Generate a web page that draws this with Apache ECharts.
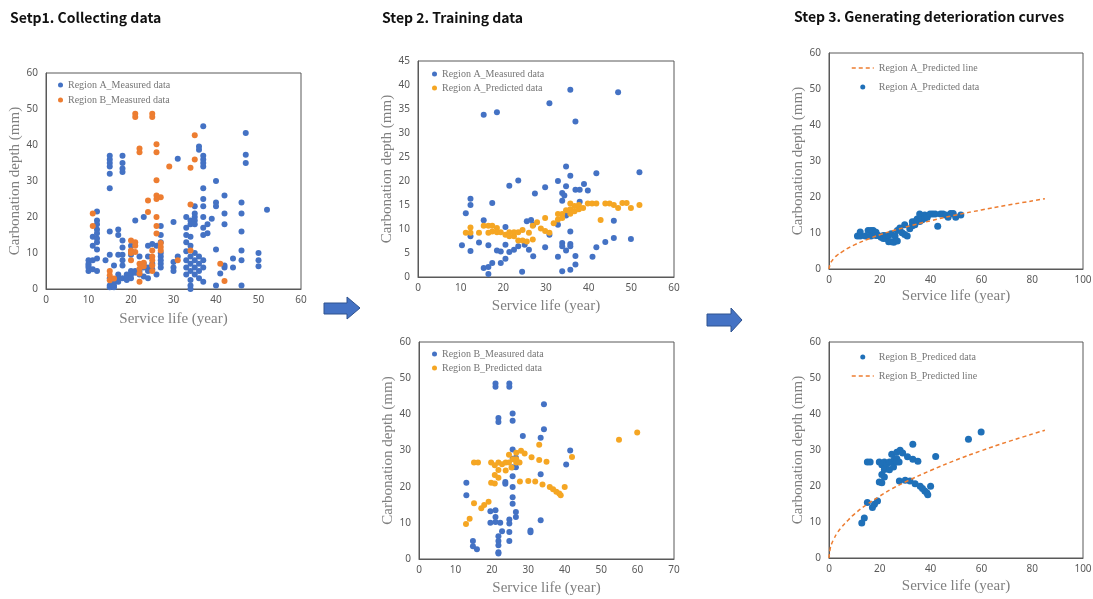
<!DOCTYPE html>
<html><head><meta charset="utf-8">
<script src="https://cdn.jsdelivr.net/npm/echarts@6/dist/echarts.min.js"></script>
<style>html,body{margin:0;padding:0;background:#fff;}#c{width:1093px;height:599px;}</style>
</head><body><div id="c"></div>
<script>
// ---------- DATA ----------
const panelTitles = ['Setp1. Collecting data', 'Step 2. Training data', 'Step 3. Generating deterioration curves'];
const xTitle = 'Service life (year)';
const yTitle = 'Carbonation depth (mm)';

// Step 1: Region A measured
const s1RegionA = [
 [10,8],[10,7],[10,6.5],[10,6],[10,5],
 [11,14.5],[11,12],[11,8],[11,5.5],
 [12,21.5],[12,19],[12,18],[12,16.5],[12,15.5],[12,14],[12,13],[12,11],[12,8.5],[12,5],
 [14,8],
 [15,37],[15,36],[15,35],[15,34],[15,32],[15,28],[15,16],[15,9.5],[15,3],[15,1],[15,0.5],
 [16,6.5],[16,2],[16,1],[16,0.5],
 [17,16.5],[17,15],[17,9.5],[17,4],[17,3],[17,2],
 [18,37],[18,35],[18,33.5],[18,32.5],[18,13.5],[18,11.5],[18,9.5],[18,8],[18,6.5],[18,3],
 [19,4],[19,3],[19,2.5],
 [20,12],[20,10.5],[20,9.5],[20,5],[20,4],[20,3],
 [21,19],[21,5],[21,4.5],
 [22,9],[22,5],[22,4],
 [23,20],[23,7],[23,6],[23,3.5],
 [24,12],[24,9],[24,6],[24,5],[24,3],
 [25,12.5],[25,7],[25,5.5],
 [26,12],[26,4],
 [27,17.5],[27,15],[27,13],[27,10],[27,9],[27,8],[27,7],[27,6],
 [30,18.6],[30,7.5],[30,6],[30,5],
 [31,36.2],[31,9],
 [33,20],[33,17],[33,15],[33,13],[33,10.5],[33,8],[33,6],[33,4],
 [34,19],[34,18],[34,14.5],[34,12],[34,9],[34,7],[34,5],[34,2.5],[34,1],[34,0],
 [35,23],[35,21],[35,20],[35,19],[35,18],[35,10],[35,8],[35,6],[35,4],
 [36,39.6],[36,38.7],[36,9],[36,7],[36,5],[36,3],
 [37,45.2],[37,37],[37,36],[37,35],[37,34],[37,28],[37,25],[37,23],[37,20],[37,17],[37,15],[37,8],[37,6],[37,2],
 [38,18],[38,15.5],[39,19.5],
 [40,30],[40,24],[40,23],[40,11],[40,1],
 [41,4.3],
 [42,26],[42,21],[42,18],[42,6.5],[42,6],
 [44,8.5],[44,6],
 [46,24],[46,21],[46,16],[46,10.7],[46,8],[46,1],
 [47,43.3],[47,37.3],[47,35],
 [50,10],[50,8],[50,6.3],
 [52,22]
];
// Step 1: Region B measured
const s1RegionB = [
 [11,21],[11,17.5],[15,5],[15,3.8],[15,2.4],[16,2.9],
 [20,13.5],[20,10.7],[20,10],[20,8],[21,13],[21,12],[21,10.3],[21,48.7],[21,47.8],
 [22,39],[22,38],[22,7],[22,5.6],[22,4.3],[22,2],[23,7.3],[23,6.3],[24,24.6],[24,21.4],
 [25,48.7],[25,47.8],[25,10.7],[25,9],[25,8],[25,6.5],[25,5],
 [26,40.2],[26,38],[26,30.2],[26,26],[26,25],[26,20],[26,17.5],[26,15.4],
 [27,25.5],[27,12.8],[27,11.7],[27,10.7],[29,34],[31,8],
 [34,33.7],[34,23.5],[34,10.7],[35,42.7],[35,36],[41,7],[42,2.2]
];
// Step 2 (top): Region A measured
const s2RegionAMeasured = [
 [10.3,6.6],[11.2,13.3],[12.3,16.3],[12.3,15],[12.3,8.5],[12.3,5.4],[14.3,7.2],[15.4,33.8],[15.4,11.8],[15.4,1.9],
 [16.5,2.1],[16.5,0.6],[16.5,6.6],[17.4,15.4],[17.4,2.9],[18.5,34.3],[18.5,5.5],[19.4,5.3],[19.4,2.9],
 [20.5,10.4],[20.5,6.7],[20.5,3.8],[21.4,19],[21.4,5.2],[22.5,5.7],[23.5,20.1],[23.5,6.4],[24.4,1.1],
 [25.5,11.6],[25,6.7],[26,5.7],[26.5,11.9],[27,10.9],[27,4.3],[27.4,17.4],[29.8,18.7],[29.8,6.2],
 [30.8,36.2],[30.8,8.8],[32.8,20],[32.8,10.9],[32.8,4.2],[33.8,17.5],[34.3,17],[33.8,15.9],[33.8,7.1],
 [33.8,6.4],[33.8,1.2],[34.7,23],[34.7,18.9],[34.7,12.8],[34.7,5.5],[35.7,39],[35.7,21.1],[35.7,9.5],
 [35.7,6.9],[35.7,6.4],[35.7,1.5],[36.9,32.4],[36.9,18.2],[36.9,4.4],[36.9,2.6],[37.9,18.2],[37.9,15.7],
 [38.9,19.4],[39.8,18],[40.9,4.2],[41.8,6.2],[41.8,21.6],[43.9,7.3],[45.9,8.1],[45.9,11.7],[46.9,38.5],
 [49.9,7.9],[51.9,21.8]
];
// Region A predicted data (Step 2 top and Step 3 top)
const regionAPredicted = [
 [11.2,9.2],[12.3,9.2],[12.3,10.3],[14.3,9.2],[15.4,10.7],[16.5,10.7],[16.5,9.2],[17.4,9.5],[17.4,10.7],
 [18.5,10.2],[18.5,9.3],[19.4,9.3],[20.5,8.8],[21.4,9.3],[21.4,8.5],[22.5,8.5],[22.5,9.3],[23.5,9.3],
 [23.5,7.6],[24.5,9.8],[24.5,7.6],[25.5,7.4],[26,9.2],[26.9,7.8],[26.9,10.7],[27.9,11.4],[28.8,10.1],
 [29.8,12.3],[29.8,9.6],[30.8,9.2],[31.8,11.2],[32.8,13.1],[33.8,13.1],[32.8,12],[33.8,12.3],[34.7,13.9],
 [35.7,14.1],[35.7,15.3],[36.7,14.8],[37.7,15],[35.7,13.2],[36.7,13.7],[37.7,14.1],[38.7,14.4],[39.8,15.3],
 [40.8,15.3],[41.8,15.3],[42.8,11.9],[43.9,15.3],[44.9,15.3],[45.9,15],[46.9,14.4],[47.9,15.4],[48.9,15.4],
 [49.9,14.4],[51.9,15]
];
// Step 2 (bottom): Region B measured
const s2RegionBMeasured = [
 [13,21.1],[13,17.6],[14.8,5],[14.8,3.5],[15.9,2.7],[19.6,13.2],[21,13.5],[21,11.6],[19.6,10],[21,10.2],
 [22.3,10],[21,48.5],[21,47.6],[21.8,39],[21.8,37.9],[21.8,6.3],[21.8,5],[21.8,3.8],[21.8,1.9],[21.8,1.5],
 [22.8,7.7],[23.7,21.3],[23.7,20.8],[24.8,48.5],[24.8,47.6],[24.8,10.9],[24.8,9.8],[24.8,7.5],[24.8,5],
 [25.7,40.2],[25.7,38.2],[25.7,30.3],[25.7,27.7],[26.6,28],[25.7,25.4],[26.6,25.4],[25.7,22.9],[25.7,19.9],
 [25.7,17.1],[25.7,15.3],[26.6,13],[26.6,11.6],[28.5,34],[30.6,7.9],[30.6,7.4],[34.3,42.8],[34.3,35.9],
 [33.4,33.5],[33.4,23.4],[33.4,10.7],[41.5,30],[40.4,26.1]
];
// Region B predicted data (Step 2 bottom and Step 3 bottom)
const regionBPredicted = [
 [12.9,9.7],[13.9,11.1],[15.1,15.4],[15.1,26.7],[16.2,26.7],[17.1,14],[17.9,14.9],[19.1,15.8],[19.8,21.1],
 [20.8,20.9],[19.8,26.7],[20.8,25.9],[20.8,23.2],[21.8,22.5],[21.8,26.7],[22.8,26.2],[21.8,24.6],[23.8,26.7],
 [24.7,26.7],[23.8,24.5],[24.7,28.8],[25.4,25.3],[25.8,27.6],[26.7,27.6],[26.7,26.7],[26.7,29.4],[27.6,26.7],
 [28,29.9],[27.7,21.4],[29,29.2],[30,21.6],[30.9,28.1],[31.9,21.4],[33,31.6],[33,27.4],[33.9,20.6],[35,26.9],
 [35.9,19.9],[36.8,19.3],[37.7,18.6],[38.5,18.1],[38.9,17.6],[40,19.9],[42,28.2],[54.9,33],[59.9,35]
];
// Predicted lines
const lineX = [0,0.5,1,2,3,5,7.5,10,15,20,25,30,40,50,60,70,85];
const lineA = [0,1.5,2.1,3,3.7,4.7,5.8,6.7,8.2,9.5,10.6,11.6,13.4,15,16.4,17.7,19.5];
const lineB = [0,2.7,3.9,5.4,6.7,8.6,10.5,12.2,14.9,17.2,19.3,21.1,24.3,27.2,29.8,32.2,35.5];

// ---------- STYLE / LAYOUT ----------
const BLUE = '#4472C4', ORANGE = '#ED7D31', GOLD = '#F5A623', BLUE3 = '#1F70B8';
const grids = [
 {left:46, top:73, width:255, height:216},
 {left:418, top:61, width:256, height:216},
 {left:419, top:342, width:255, height:217},
 {left:829, top:53, width:254, height:216},
 {left:829, top:342, width:254, height:216}
];
const xRanges = [[60,10],[60,10],[70,10],[100,20],[100,20]];
const yRanges = [[60,10],[45,5],[60,10],[60,10],[60,10]];
const xGaps = [23,22,22,20,21];
const yGaps = [21,21,21,21,21];

const axisTitleStyle = {fontFamily:'Liberation Serif', fontSize:15, color:'#7F7F7F'};
const tickStyle = {color:'#595959', fontSize:10, fontFamily:'Noto Sans'};

const xAxis = grids.map((g,i)=>({
  type:'value', gridIndex:i, min:0, max:xRanges[i][0], interval:xRanges[i][1],
  name:xTitle, nameLocation:'middle', nameGap:xGaps[i], nameTextStyle:axisTitleStyle,
  axisLine:{show:true, onZero:false, lineStyle:{color:'#595959', width:1}},
  axisTick:{show:false}, splitLine:{show:false},
  axisLabel:Object.assign({margin:6}, tickStyle)
}));
const yAxis = grids.map((g,i)=>({
  type:'value', gridIndex:i, min:0, max:yRanges[i][0], interval:yRanges[i][1],
  name:yTitle, nameLocation:'middle', nameGap:yGaps[i], nameTextStyle:axisTitleStyle,
  axisLine:{show:true, onZero:false, lineStyle:{color:'#595959', width:1}},
  axisTick:{show:false}, splitLine:{show:false},
  axisLabel:Object.assign({margin:8}, tickStyle)
}));

function sc(name, data, idx, color, size){
  return {type:'scatter', name:name, data:data, xAxisIndex:idx, yAxisIndex:idx,
    symbol:'circle', symbolSize:size, itemStyle:{color:color, opacity:1}, silent:true};
}
function ln(name, xs, ys, idx){
  return {type:'line', name:name, data:xs.map((x,k)=>[x,ys[k]]), xAxisIndex:idx, yAxisIndex:idx,
    symbol:'none', smooth:true, silent:true,
    lineStyle:{color:ORANGE, width:1.5, type:[4,3]}, itemStyle:{color:ORANGE}};
}
const series = [
  sc('Region A_Measured data', s1RegionA, 0, BLUE, 6),
  sc('Region B_Measured data', s1RegionB, 0, ORANGE, 6),
  sc('Region A_Measured data', s2RegionAMeasured, 1, BLUE, 6),
  sc('Region A_Predicted data', regionAPredicted, 1, GOLD, 6),
  sc('Region B_Measured data', s2RegionBMeasured, 2, BLUE, 6),
  sc('Region B_Predicted data', regionBPredicted, 2, GOLD, 6),
  sc('Region A_Predicted data', regionAPredicted, 3, BLUE3, 7),
  ln('Region A_Predicted line', lineX, lineA, 3),
  sc('Region B_Prediced data', regionBPredicted, 4, BLUE3, 7),
  ln('Region B_Predicted line', lineX, lineB, 4)
];

const legText = {fontFamily:'Liberation Serif', fontSize:10, color:'#767676', lineHeight:12};
function dot(name, color){ return {name:name, icon:'circle', itemStyle:{color:color}}; }
function dash(name){ return {name:name, itemStyle:{color:'rgba(0,0,0,0)', borderWidth:0, opacity:0},
  lineStyle:{color:ORANGE, type:[4,3], width:1.5, opacity:1}}; }
function leg(left, top, gap, w, data){
  return {orient:'vertical', left:left, top:top, itemGap:gap, itemWidth:w, itemHeight:5, padding:0,
    selectedMode:false, textStyle:legText, data:data};
}
const legend = [
  leg(58, 79, 3, 5, [dot('Region A_Measured data', BLUE), dot('Region B_Measured data', ORANGE)]),
  leg(432, 68, 2, 5, [dot('Region A_Measured data', BLUE), dot('Region A_Predicted data', GOLD)]),
  leg(432, 348, 2, 5, [dot('Region B_Measured data', BLUE), dot('Region B_Predicted data', GOLD)]),
  leg(851, 62, 7, 22, [dash('Region A_Predicted line'), dot('Region A_Predicted data', BLUE3)]),
  leg(851, 351, 7, 22, [dot('Region B_Prediced data', BLUE3), dash('Region B_Predicted line')])
];

const titleFont = {fontFamily:'"Noto Sans CJK KR"', fontWeight:'bold', fontSize:14, fill:'#111'};
const titlePos = [[10,20],[382,20],[794,19]];
const graphic = titlePos.map((p,i)=>({type:'text', left:p[0], top:p[1]-9,
  style:Object.assign({text:panelTitles[i]}, titleFont)}));
const arrowStyle = {fill:BLUE, stroke:'#2F528F', lineWidth:1};
graphic.push({type:'polygon', shape:{points:[[324,303],[347,303],[347,297],[360,308],[347,319],[347,314],[324,314]]}, style:arrowStyle});
graphic.push({type:'polygon', shape:{points:[[707,314],[731,314],[731,308],[742,320],[731,332],[731,326],[707,326]]}, style:arrowStyle});

const chart = echarts.init(document.getElementById('c'), null, {renderer:'canvas'});
chart.setOption({
  animation:false,
  backgroundColor:'#fff',
  grid: grids.map(g=>Object.assign({show:true, borderColor:'#595959', borderWidth:1, containLabel:false, outerBoundsMode:'none'}, g)),
  xAxis:xAxis, yAxis:yAxis, series:series, legend:legend, graphic:graphic
});
</script></body></html>
